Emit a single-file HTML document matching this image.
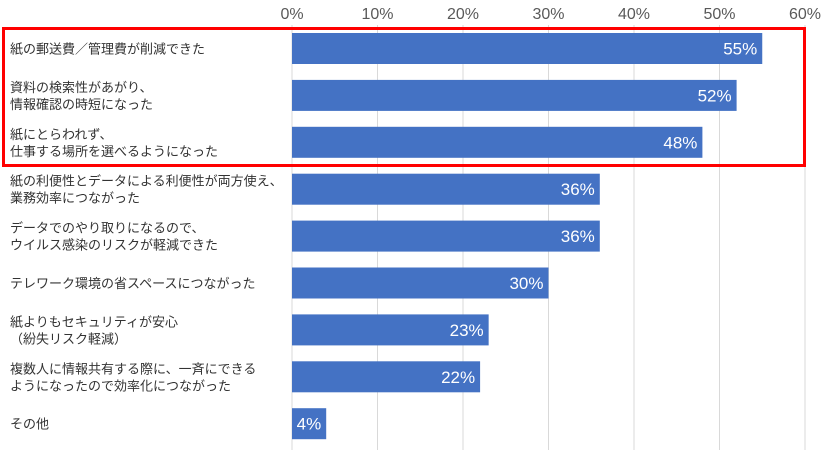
<!DOCTYPE html>
<html><head><meta charset="utf-8"><style>
body{margin:0;background:#fff;}
svg text{font-family:"Liberation Sans","Noto Sans CJK JP",sans-serif;}
</style></head><body>
<svg id="c" width="840" height="463" xmlns="http://www.w3.org/2000/svg"></svg>
<script>
const categories=[["紙の郵送費／管理費が削減できた"],["資料の検索性があがり、","情報確認の時短になった"],["紙にとらわれず、","仕事する場所を選べるようになった"],["紙の利便性とデータによる利便性が両方使え、","業務効率につながった"],["データでのやり取りになるので、","ウイルス感染のリスクが軽減できた"],["テレワーク環境の省スペースにつながった"],["紙よりもセキュリティが安心","（紛失リスク軽減）"],["複数人に情報共有する際に、一斉にできる","ようになったので効率化につながった"],["その他"]];
const values=[55,52,48,36,36,30,23,22,4];
const ticks=[0,10,20,30,40,50,60];
const NS="http://www.w3.org/2000/svg";
const svg=document.getElementById('c');
const x0=292,pxPer=8.55,top0=25,pitch=46.9,barH=31;
const xs=v=>x0+v*pxPer;
const yc=i=>48.5+i*pitch;
function mk(t,a,p){const e=document.createElementNS(NS,t);for(const k in a)e.setAttribute(k,a[k]);(p||svg).appendChild(e);return e;}
ticks.forEach(t=>{
 const g=mk('line',{x1:xs(t),x2:xs(t),y1:25,y2:450,stroke:'#d9d9d9','stroke-width':1});
 
 
 const l=mk('text',{x:xs(t),y:19,'text-anchor':'middle','font-size':16,fill:'#595959'});
 l.textContent=t+'%';
 
 
});
values.forEach((v,i)=>{
 const r=mk('rect',{x:x0,y:yc(i)-barH/2,width:xs(v)-x0,height:barH,fill:'#4472c4'});
 
 
 const t=mk('text',{x:xs(v)-5,y:yc(i)+6,'text-anchor':'end','font-size':17,fill:'#fff'});
 t.textContent=v+'%';
 
 
 const lines=categories[i];
 lines.forEach((s,j)=>{
  const c=mk('text',{x:10,y:yc(i)+5+(j-(lines.length-1)/2)*17,'font-size':13,fill:'#333'});
  c.textContent=s;
  
  
 });
});
const hl=mk('rect',{x:3.5,y:28.5,width:801,height:137,fill:'none',stroke:'#ff0000','stroke-width':3});


</script>
</body></html>
